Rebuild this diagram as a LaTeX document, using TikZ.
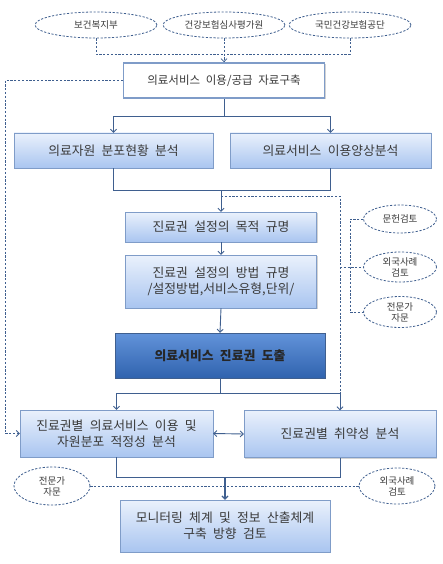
\documentclass[tikz,border=0pt]{standalone}
\usepackage{fontspec}
\setmainfont{Noto Sans CJK KR}[WordSpace=2.2]
\usetikzlibrary{shapes.geometric, arrows.meta, shadows}

\definecolor{lineblue}{HTML}{3F5F8F}
\definecolor{rimblue}{HTML}{7F9CC8}
\definecolor{lighttop}{HTML}{EAF1FC}
\definecolor{lightbot}{HTML}{A9C5F0}
\definecolor{darktop}{HTML}{6293DA}
\definecolor{darkbot}{HTML}{3063AE}
\definecolor{txtgray}{HTML}{3A3A3A}

\tikzset{
  src/.style={ellipse, draw=lineblue, line width=0.8pt, dash pattern=on 2.2pt off 1.6pt,
    fill=white, inner sep=0pt,
    font=\fontsize{9.5}{11}\selectfont, text=txtgray, align=center},
  lightbox/.style={rectangle, draw=rimblue, top color=lighttop, bottom color=lightbot,
    drop shadow={shadow xshift=1.2pt, shadow yshift=-1.2pt, opacity=0.35},
    font=\fontsize{12.8}{16}\selectfont, text=txtgray, align=center},
  flow/.style={draw=lineblue, line width=0.9pt},
  arr/.style={flow, -{Straight Barb[length=3pt, width=6pt]}},
  dashln/.style={draw=lineblue, line width=0.8pt, dash pattern=on 2.2pt off 1.6pt}
}

\begin{document}
\begin{tikzpicture}[x=1pt, y=-1pt]
    \useasboundingbox (0,0) rectangle (443,564);

    % sources on top
    \node[src, minimum width=122, minimum height=26] (hw) at (96,25) {보건복지부};
    \node[src, minimum width=122, minimum height=26] (hira) at (224,25) {건강보험심사평가원};
    \node[src, minimum width=122, minimum height=26] (nhis) at (350,25) {국민건강보험공단};

    \node[rectangle, draw=rimblue, line width=1.6pt, fill=white,
      drop shadow={shadow xshift=1.2pt, shadow yshift=-1.2pt, opacity=0.35},
      minimum width=201, minimum height=35, text=txtgray,
      font=\fontsize{11.5}{14}\selectfont] (data) at (224,80.5) {의료서비스 이용/공급 자료구축};

    \node[lightbox, minimum width=199, minimum height=35] (res) at (113.5,150.5) {의료자원 분포현황 분석};
    \node[lightbox, minimum width=201, minimum height=35] (use) at (330.5,150.5) {의료서비스 이용양상분석};

    \node[lightbox, minimum width=191, minimum height=30] (goal) at (221,227) {진료권 설정의 목적 규명};
    \node[lightbox, minimum width=191, minimum height=53] (meth) at (221,281.5) {진료권 설정의 방법 규명\\/설정방법,서비스유형,단위/};

    \node[rectangle, draw=lineblue, top color=darktop, bottom color=darkbot,
      drop shadow={shadow xshift=1.2pt, shadow yshift=-1.2pt, opacity=0.4},
      minimum width=210, minimum height=45, text=black!85,
      font=\fontsize{12.8}{16}\selectfont\bfseries] (area) at (220,355.5) {의료서비스 진료권 도출};

    \node[lightbox, minimum width=193, minimum height=47] (fit) at (116.5,433.5) {진료권별 의료서비스 이용 및\\자원분포 적정성 분석};
    \node[lightbox, minimum width=192, minimum height=47] (weak) at (340,434) {진료권별 취약성 분석};

    \node[lightbox, minimum width=210, minimum height=52] (mon) at (225,526) {모니터링 체계 및 정보 산출체계\\구축 방향 검토};

    % side reviews
    \node[src, minimum width=73, minimum height=28] (lit) at (400,219) {문헌검토};
    \node[src, minimum width=73, minimum height=30] (abr) at (400,267) {외국사례\\검토};
    \node[src, minimum width=73, minimum height=31] (exp) at (400,312) {전문가\\자문};

    \node[src, minimum width=76, minimum height=38] (exp2) at (52,486) {전문가\\자문};
    \node[src, minimum width=76, minimum height=36] (abr2) at (397,486) {외국사례\\검토};

    % joints
    \coordinate (top) at (224,54);
    \coordinate (lft) at (5,80.5);
    \coordinate (j1) at (224,116);
    \coordinate (j2) at (221,190);
    \coordinate (d1) at (221,196);
    \coordinate (j3) at (220,393);
    \coordinate (d2) at (340,393);
    \coordinate (rk) at (350,267);
    \coordinate (rm) at (340,267);
    \coordinate (j4) at (225,477);

    \draw[dashln] (hw.south) |- (top);
    \draw[dashln] (nhis.south) |- (top);
    \draw[dashln, -{Straight Barb[length=3pt, width=6pt]}] (hira.south) -- (data.north);
    \draw[dashln, -{Straight Barb[length=3pt, width=6pt]}] (data.west) -- (lft) |- (fit.west);

    \draw[flow] (data.south) -- (j1);
    \draw[arr] (j1) -| (res.north);
    \draw[arr] (j1) -| (use.north);
    \draw[flow] (res.south) |- (j2);
    \draw[flow] (use.south) |- (j2);
    \draw[arr] (j2) -- (goal.north);
    \draw[arr] (goal.south) -- (meth.north);
    \draw[arr] (meth.south) -- (area.north);

    \draw[dashln] (d1) -| (d2);
    \draw[dashln] (lit.west) -| (rk) |- (exp.west);
    \draw[dashln] (rm) -- (abr.west);

    \draw[flow] (area.south) -- (j3);
    \draw[arr] (j3) -| (fit.north);
    \draw[arr] (j3) -| (weak.north);
    \draw[flow, {Straight Barb[length=3pt, width=6pt]}-{Straight Barb[length=3pt, width=6pt]}] (fit.east) -- (weak.west);

    \draw[flow] (fit.south) |- (j4);
    \draw[flow] (weak.south) |- (j4);
    \draw[arr, line width=1.2pt] (j4) -- (mon.north);
    \draw[dashln] (exp2.east) -- (abr2.west);

\end{tikzpicture}
\end{document}
